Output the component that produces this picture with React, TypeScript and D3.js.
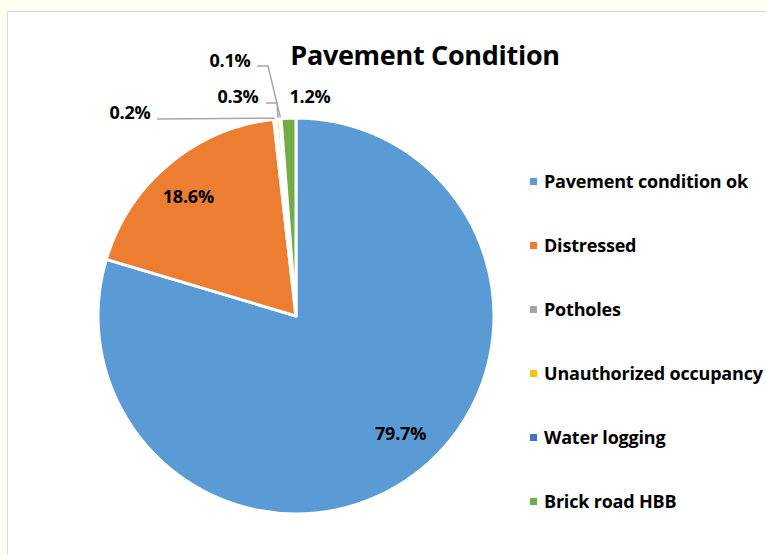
import React from "react";
import * as d3 from "d3";

const categories = [
  "Pavement condition ok",
  "Distressed",
  "Potholes",
  "Unauthorized occupancy",
  "Water logging",
  "Brick road HBB",
];
const values = [79.7, 18.6, 0.2, 0.3, 0.1, 1.2];
const labels = ["79.7%", "18.6%", "0.2%", "0.3%", "0.1%", "1.2%"];
const colors = ["#5B9BD5", "#ED7D31", "#A5A5A5", "#FFC000", "#4472C4", "#70AD47"];

const W = 766;
const H = 555;
const cx = 296;
const cy = 316;
const R = 198;
const FONT = "'Open Sans', Lato, sans-serif";

export default function App() {
  const pie = d3
    .pie<number>()
    .sort(null)
    .value((d) => d)
    .startAngle(0)
    .endAngle(2 * Math.PI);
  const arcs = pie(values);
  const arcGen = d3.arc<d3.PieArcDatum<number>>().innerRadius(0).outerRadius(R);

  const mid = (a: d3.PieArcDatum<number>) => (a.startAngle + a.endAngle) / 2;
  const onRim = (a: d3.PieArcDatum<number>, r: number, rot = 0): [number, number] => {
    const m = mid(a) + rot;
    return [Math.sin(m) * r, -Math.cos(m) * r];
  };

  const inside: Record<number, { r: number; rot: number }> = {
    0: { r: 157, rot: -0.089 },
    1: { r: 161, rot: -0.036 },
  };
  const outside: Record<number, { tx: number; ty: number; path: (p: [number, number]) => string }> = {
    2: { tx: -166, ty: -203, path: (p) => `M${-139},${-197} L${p[0]},${p[1]}` },
    3: { tx: -58, ty: -219, path: (p) => `M${-30},${-213} L${-19},${-213} L${p[0]},${p[1]}` },
    4: { tx: -66, ty: -255, path: (p) => `M${-39},${-250} L${-28},${-250} L${p[0]},${p[1]}` },
    5: { tx: 14, ty: -219, path: () => "" },
  };

  const legendY0 = 182;
  const legendStep = 64;

  return (
    <svg
      width={W}
      height={H}
      style={{ position: "fixed", left: 0, top: 0, display: "block" }}
      fontFamily={FONT}
    >
      <rect x={0} y={0} width={W} height={H} fill="#FFFFF3" />
      <rect x={7.5} y={11.5} width={W} height={H} fill="#FFFFFF" stroke="#D9D9D9" strokeWidth={1} />
      <text x={425} y={65} textAnchor="middle" fontSize={27} fontWeight="bold" fill="#000" letterSpacing={-0.3}>
        Pavement Condition
      </text>
      <g transform={`translate(${cx},${cy})`}>
        {arcs.map((a, i) => (
          <path key={i} d={arcGen(a) || ""} fill={colors[i]} stroke="#FFFFFF" strokeWidth={3} strokeLinejoin="round" />
        ))}
        {arcs.map((a, i) => {
          const o = outside[i];
          if (!o) {
            const s = inside[i];
            const [x, y] = onRim(a, s.r, s.rot);
            return (
              <text key={i} x={x} y={y} dy="0.36em" textAnchor="middle" fontSize={18} fontWeight="bold" fill="#000" letterSpacing={-0.2}>
                {labels[i]}
              </text>
            );
          }
          const p = onRim(a, R + 1);
          const d = o.path(p);
          return (
            <g key={i}>
              {d && <path d={d} fill="none" stroke="#A6A6A6" strokeWidth={1.5} />}
              <text x={o.tx} y={o.ty} dy="0.36em" textAnchor="middle" fontSize={18} fontWeight="bold" fill="#000" letterSpacing={-0.2}>
                {labels[i]}
              </text>
            </g>
          );
        })}
      </g>
      <g>
        {categories.map((c, i) => (
          <g key={c} transform={`translate(530,${legendY0 + i * legendStep})`}>
            <rect x={0} y={-4} width={7} height={7} fill={colors[i]} />
            <text x={14} y={0} dy="0.36em" fontSize={18} fontWeight="bold" fill="#000" letterSpacing={-0.2}>
              {c}
            </text>
          </g>
        ))}
      </g>
    </svg>
  );
}
